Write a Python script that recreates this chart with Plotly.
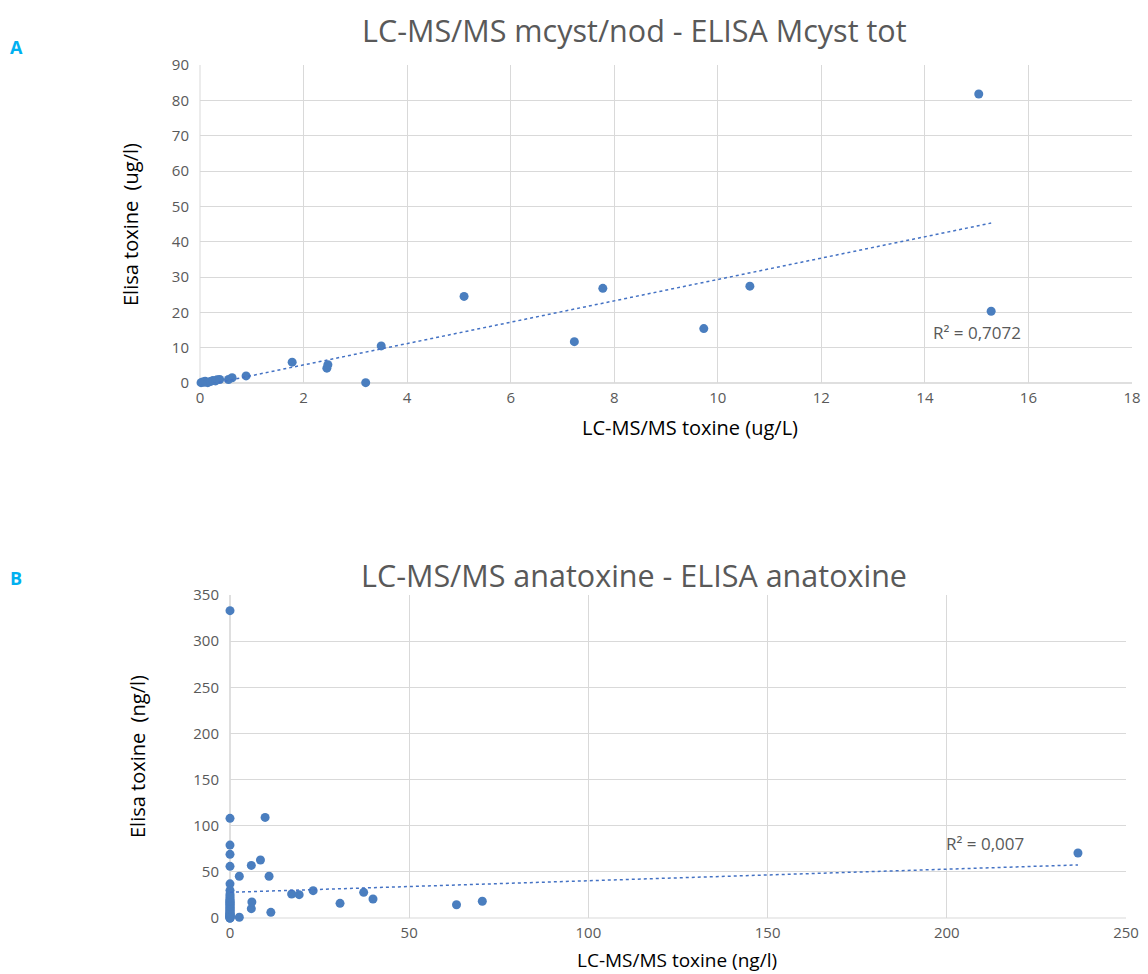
import numpy as np
import plotly.graph_objects as go

# Panel A data (ug/L)
a_lcms = [0.02, 0.05, 0.08, 0.10, 0.15, 0.20, 0.25, 0.30, 0.33, 0.38, 0.55, 0.62,
          0.89, 1.78, 2.45, 2.47, 3.20, 3.50, 5.10, 7.23, 7.78, 9.73, 10.62, 15.04, 15.28]
a_elisa = [0.1, 0.3, 0.2, 0.5, 0.1, 0.4, 0.7, 0.6, 0.9, 1.0, 1.0, 1.5,
           2.0, 5.9, 4.2, 5.2, 0.1, 10.5, 24.5, 11.7, 26.8, 15.4, 27.4, 81.8, 20.3]

# Panel B data (ng/l)
b_lcms = [0] * 37 + [2.6, 2.6, 5.95, 5.95, 6.1, 8.5, 9.8, 10.9, 11.4, 17.2, 19.3, 23.2,
                     30.7, 37.3, 39.9, 63.2, 70.4, 236.6]
b_elisa = [333, 108, 79, 69, 56, 37, 30, 24, 20, 17, 14, 11, 8, 5, 3, 1, 0,
           0, 0, 1, 2, 2, 3, 4, 5, 6, 7, 9, 10, 12, 13, 15, 16, 18, 19, 22, 26,
           45.2, 0.8, 57, 10.1, 17.3, 62.8, 109, 45.2, 6.1, 26, 25.3, 29.6,
           15.9, 27.8, 20.6, 14.4, 18.1, 70.4]

a_r2_label = "R² = 0,7072"
b_r2_label = "R² = 0,007"

W, H = 1148, 974
def px(v): return v / W
def py(v): return 1 - v / H

mk = dict(color="#4A7EBF", size=9)
tcol = "#4472C4"

fig = go.Figure()
fig.add_trace(go.Scatter(x=a_lcms, y=a_elisa, mode="markers", marker=mk, xaxis="x", yaxis="y",
                         showlegend=False, cliponaxis=False))
ca = np.polyfit(a_lcms, a_elisa, 1)
xa = np.array([min(a_lcms), max(a_lcms)])
fig.add_trace(go.Scatter(x=xa, y=np.polyval(ca, xa), mode="lines", line=dict(color=tcol, width=1.5, dash="dot"),
                         xaxis="x", yaxis="y", showlegend=False))

fig.add_trace(go.Scatter(x=b_lcms, y=b_elisa, mode="markers", marker=mk, xaxis="x2", yaxis="y2",
                         showlegend=False, cliponaxis=False))
cb = np.polyfit(b_lcms, b_elisa, 1)
xb = np.array([min(b_lcms), max(b_lcms)])
fig.add_trace(go.Scatter(x=xb, y=np.polyval(cb, xb), mode="lines", line=dict(color=tcol, width=1.5, dash="dot"),
                         xaxis="x2", yaxis="y2", showlegend=False))

font = "Open Sans"
tick = dict(family=font, size=15, color="#595959")
grid = "#D9D9D9"

ax_common = dict(showgrid=True, gridcolor=grid, gridwidth=1, zeroline=False, showline=False,
                 ticks="", tickfont=tick, fixedrange=True, automargin=False)

fig.update_layout(
    width=W, height=H, margin=dict(l=0, r=0, t=0, b=0, autoexpand=False), autosize=False,
    paper_bgcolor="white", plot_bgcolor="white",
    font=dict(family=font),
    xaxis=dict(domain=[px(200), px(1132)], range=[0, 18], dtick=2, anchor="y", ticklabelstandoff=4, **ax_common),
    yaxis=dict(domain=[py(383), py(65)], range=[0, 90], dtick=10, anchor="x", ticklabelstandoff=10, **ax_common),
    xaxis2=dict(domain=[px(230), px(1126)], range=[0, 250], dtick=50, anchor="y2", ticklabelstandoff=4, **ax_common),
    yaxis2=dict(domain=[py(918), py(595)], range=[0, 350], dtick=50, anchor="x2", ticklabelstandoff=10, **ax_common),
)

shapes = []
for (x0, y0, x1, y1, c) in [
    (200, 383, 1132, 383, "#BFBFBF"), (200, 65, 200, 383, "#D9D9D9"),
    (230, 918, 1126, 918, "#D9D9D9"), (230, 595, 230, 918, "#BFBFBF"),
]:
    shapes.append(dict(type="line", xref="paper", yref="paper", x0=px(x0), y0=py(y0), x1=px(x1), y1=py(y1),
                       line=dict(color=c, width=1), layer="below"))
fig.update_layout(shapes=shapes)

ann = []
def a(text, x, y, size, color, angle=0, bold=False):
    ann.append(dict(text=("<b>%s</b>" % text) if bold else text, x=px(x), y=py(y), xref="paper", yref="paper",
                    showarrow=False, textangle=angle, xanchor="center", yanchor="middle",
                    font=dict(family=font, size=size, color=color)))

a("A", 16, 47, 18, "#00B0F0", bold=True)
a("B", 16, 578, 18, "#00B0F0", bold=True)
a("LC-MS/MS mcyst/nod - ELISA Mcyst tot", 634, 30, 30.5, "#595959")
a("LC-MS/MS anatoxine - ELISA anatoxine", 634, 575, 30.5, "#595959")
a("LC-MS/MS toxine (ug/L)", 690, 427, 20, "#000000")
a("LC-MS/MS toxine (ng/l)", 677, 960, 19, "#000000")
a("Elisa toxine  (ug/l)", 131, 225, 20, "#000000", angle=-90)
a("Elisa toxine  (ng/l)", 137, 757, 20, "#000000", angle=-90)
ann.append(dict(text=a_r2_label, x=15.0, y=14.2, xref="x", yref="y", showarrow=False,
                font=dict(family=font, size=17, color="#595959")))
ann.append(dict(text=b_r2_label, x=210.7, y=81, xref="x2", yref="y2", showarrow=False,
                font=dict(family=font, size=17, color="#595959")))
fig.update_layout(annotations=ann)

fig.write_html("out.html", config={"responsive": False, "displayModeBar": False})

with open("out.html", "r", encoding="utf-8") as f:
    html = f.read()
html = html.replace("<body>", '<body style="margin:0;padding:0;overflow:hidden">', 1)
with open("out.html", "w", encoding="utf-8") as f:
    f.write(html)
